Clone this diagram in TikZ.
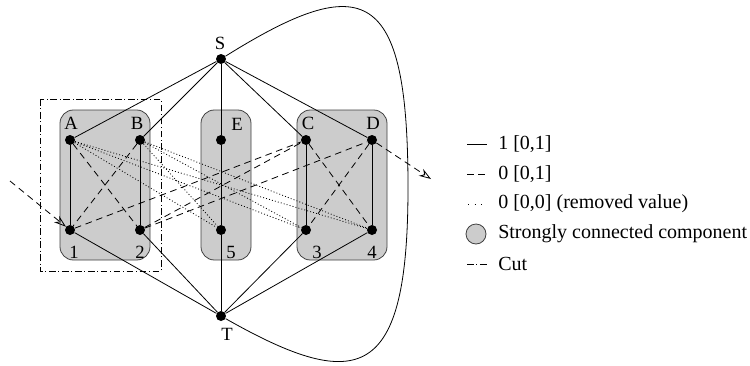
\documentclass[tikz,border=0pt]{standalone}
\usepackage{fontspec}
\setmainfont{Liberation Serif}
\usetikzlibrary{arrows.meta}
\begin{document}
\begin{tikzpicture}[x=0.75pt,y=-0.75pt,
  dot/.style={circle,fill=black,inner sep=0pt,minimum size=7.5pt},
  scc/.style={draw=black!75,fill=black!20,rounded corners=10pt,line width=0.6pt},
  edge/.style={line width=0.6pt},
  zero/.style={line width=0.6pt,dash pattern=on 5pt off 3.5pt},
  removed/.style={line width=0.6pt,dash pattern=on 0.7pt off 1.6pt},
  legdots/.style={line width=0.6pt,dash pattern=on 0.7pt off 4.3pt},
  cutline/.style={line width=0.6pt,dash pattern=on 5pt off 2pt on 0.7pt off 2pt},
  lbl/.style={font=\fontsize{14}{16}\selectfont,inner sep=0pt},
  leg/.style={font=\fontsize{15}{18}\selectfont,anchor=west,inner sep=0pt},
  arr/.style={-{Stealth[open,length=9pt,width=6pt]}}
]
\useasboundingbox (0,0) rectangle (750,365);

% strongly connected components
\draw[scc] (60,110) rectangle (150,260);
\draw[scc] (201,110) rectangle (251,260);
\draw[scc] (297,110) rectangle (387,260);

% cut
\draw[cutline] (40,99) rectangle (161,271);

% vertices
\node[dot] (A) at (70,140) {};
\node[dot] (B) at (140,140) {};
\node[dot] (n1) at (70,230) {};
\node[dot] (n2) at (140,230) {};
\node[dot] (E) at (221,140) {};
\node[dot] (n5) at (221,230) {};
\node[dot] (C) at (306,140) {};
\node[dot] (D) at (372,140) {};
\node[dot] (n3) at (306,230) {};
\node[dot] (n4) at (372,230) {};
\node[dot] (S) at (221,59) {};
\node[dot] (T) at (221,316) {};

% labels
\node[lbl] (lA) at (71,123) {A};
\node[lbl] (lB) at (137,123) {B};
\node[lbl] (l1) at (74,252) {1};
\node[lbl] (l2) at (140,252) {2};
\node[lbl] (lE) at (237,124) {E};
\node[lbl] (l5) at (231,252) {5};
\node[lbl] (lC) at (308,123) {C};
\node[lbl] (lD) at (373,123) {D};
\node[lbl] (l3) at (317,252) {3};
\node[lbl] (l4) at (372,252) {4};
\node[lbl] (lS) at (220,43) {S};
\node[lbl] (lT) at (227,334) {T};

% flow 1 edges
\foreach \a/\b in {A/n1,B/n2,E/n5,C/n3,D/n4,S/A,S/B,S/E,S/C,S/D,T/n1,T/n2,T/n5,T/n3,T/n4}
  \draw[edge] (\a) -- (\b);

% S-T return arc
\coordinate (R) at (408,187.5);
\draw[edge] (S) .. controls (365,-31) and (408,-13) .. (R)
  .. controls (408,380) and (360,395) .. (T);

% flow 0, possible
\foreach \a/\b in {A/n2,B/n1,C/n4,D/n3,n1/C,n2/C,n2/D}
  \draw[zero] (\a) -- (\b);

% removed values
\foreach \a/\b in {A/n3,A/n4,A/n5,B/n3,B/n4,B/n5}
  \draw[removed] (\a) -- (\b);

% in/out arrows
\coordinate (inL) at (10,181);
\coordinate (outR) at (431,179);
\draw[zero,arr] (inL) -- (n1);
\draw[zero,arr] (D) -- (outR);

% legend
\coordinate (g1a) at (467,144); \coordinate (g1b) at (487,144);
\draw[edge] (g1a) -- (g1b);
\node[leg] (t1) at (498,144) {1 [0,1]};
\coordinate (g2a) at (467,174); \coordinate (g2b) at (487,174);
\draw[zero] (g2a) -- (g2b);
\node[leg] (t2) at (498,174) {0 [0,1]};
\coordinate (g3a) at (468,204); \coordinate (g3b) at (487,204);
\draw[legdots] (g3a) -- (g3b);
\node[leg] (t3) at (498,204) {0 [0,0] (removed value)};
\node[circle,draw=black!75,fill=black!20,line width=0.6pt,minimum size=15pt,inner sep=0pt] (g4) at (476,234) {};
\node[leg] (t4) at (498,234) {Strongly connected component};
\coordinate (g5a) at (467,264); \coordinate (g5b) at (487,264);
\draw[cutline] (g5a) -- (g5b);
\node[leg] (t5) at (498,264) {Cut};
\end{tikzpicture}
\end{document}
